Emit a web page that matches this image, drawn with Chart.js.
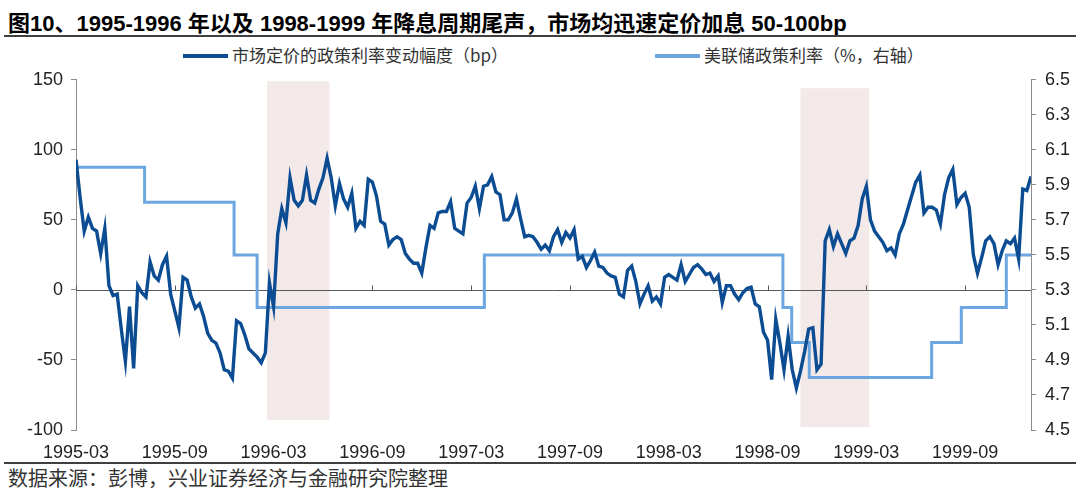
<!DOCTYPE html>
<html>
<head>
<meta charset="utf-8">
<script src="https://cdn.jsdelivr.net/npm/chart.js@4.4.1/dist/chart.umd.min.js"></script>
<style>
  body { margin: 0; width: 1080px; height: 492px; background: #fff; position: relative; overflow: hidden;
         font-family: "Liberation Sans", "Noto Sans CJK SC", sans-serif; }
  #title { position: absolute; left: 8px; top: 5px; font-size: 22px; font-weight: bold; color: #000; white-space: nowrap; }
  .rule { position: absolute; left: 4px; width: 1072px; height: 2px; background: #3f3f3f; }
  .leg { position: absolute; top: 42px; font-size: 17px; color: #333; white-space: nowrap; font-family: "Noto Sans CJK SC", sans-serif; }
  .leg i { display: inline-block; width: 45px; height: 4px; vertical-align: middle; margin-right: 4px; position: relative; top: -1px; }
  #source { position: absolute; left: 8px; top: 466px; font-size: 20px; color: #333; white-space: nowrap; font-family: "Noto Sans CJK SC", sans-serif; line-height: 24px; }
  #wrap { position: absolute; left: 0; top: 60px; width: 1080px; height: 400px; }
</style>
</head>
<body>
<div id="title">图10、1995-1996 年以及 1998-1999 年降息周期尾声，市场均迅速定价加息 50-100bp</div>
<div class="rule" style="top:35px"></div>
<div class="leg" id="leg1" style="left:183px"><i style="background:#0b4c92"></i><span></span></div>
<div class="leg" id="leg2" style="left:655px"><i style="background:#6ca6e0"></i><span></span></div>
<div id="wrap"><canvas id="myChart"></canvas></div>
<div class="rule" style="top:462px"></div>
<div id="source">数据来源：彭博，兴业证券经济与金融研究院整理</div>

<script>
const seriesNames = ["市场定价的政策利率变动幅度（bp）", "美联储政策利率（%，右轴）"];

// x axis tick labels (every 6 months)
const xTickLabels = ["1995-03", "1995-09", "1996-03", "1996-09", "1997-03",
                     "1997-09", "1998-03", "1998-09", "1999-03", "1999-09"];
const leftTicks = [-100, -50, 0, 50, 100, 150];
const rightTicks = [4.5, 4.7, 4.9, 5.1, 5.3, 5.5, 5.7, 5.9, 6.1, 6.3, 6.5];

// market-priced change in policy rate (bp), one value per quarter month from 1995-03
const spreadStart = "1995-03-01";
const spreadStep = 0.25;
const spread = [
  93, 66, 42, 52, 44, 42, 26, 44, 3, -4,
  -3, -28, -51, -12, -56, 3, -2, -5, 20, 10,
  7, 18, 24, -3, -15, -27, 9, 7, -5, -13,
  -10, -19, -31, -36, -38, -45, -57, -58, -63, -22,
  -24, -32, -42, -45, -48, -52, -45, 5, -12, 40,
  58, 48, 80, 64, 60, 64, 82, 64, 62, 72,
  80, 94, 80, 60, 76, 65, 59, 69, 44, 49,
  46, 79, 77, 67, 49, 47, 32, 36, 38, 36,
  26, 22, 19, 19, 12, 30, 46, 44, 55, 56,
  56, 63, 44, 42, 40, 62, 66, 74, 58, 74,
  75, 81, 70, 68, 50, 50, 55, 65, 51, 38,
  39, 38, 34, 29, 32, 28, 38, 43, 34, 41,
  37, 43, 22, 24, 16, 21, 27, 17, 16, 12,
  10, 9, -3, -5, 14, 17, 6, -10, -3, 3,
  -8, -5, -10, 9, 11, 9, 7, 18, 6, 11,
  16, 18, 15, 11, 12, 6, 10, -9, 3, 3,
  -3, -7, -2, 1, 2, -10, -12, -30, -36, -64,
  -21, -38, -57, -33, -57, -70, -58, -44, -28, -27,
  -57, -53, 35, 43, 31, 40, 33, 26, 35, 37,
  46, 65, 74, 50, 42, 38, 34, 28, 30, 25,
  40, 47, 57, 67, 77, 82, 55, 59, 59, 57,
  47, 68, 80, 86, 61, 66, 69, 59, 25, 12,
  23, 35, 38, 33, 18, 28, 35, 33, 37, 22,
  72, 71, 81
];

// fed funds target rate (%), date of each change
const fedDates = ["1995-03-01", "1995-07-06", "1995-12-19", "1996-01-31", "1997-03-25",
                  "1998-09-29", "1998-10-15", "1998-11-17", "1999-06-30", "1999-08-24",
                  "1999-11-16", "2000-01-01"];
const fedRate = [6.0, 5.8, 5.5, 5.2, 5.5, 5.2, 5.0, 4.8, 5.0, 5.2, 5.5, 5.5];

// shaded periods (end of easing cycles)
const shadeRanges = [["1996-02-19", "1996-06-13"], ["1998-11-01", "1999-03-06"]];
const shadeTop = [149, 144];
const shadeBottom = [-93, -98];

function toMonth(s) {
    const p = s.split("-").map(Number);
    return (p[0] - 1995) * 12 + (p[1] - 3) + ((p[2] || 1) - 1) / 30;
}

const tickFont = { family: '"Liberation Sans", Arial, sans-serif', size: 18 };

const bandsPlugin = {
    id: "bands",
    beforeDatasetsDraw(chart) {
        const { ctx, chartArea, scales: { x, y } } = chart;
        ctx.save();
        ctx.fillStyle = "#f4e9e9";
        shadeRanges.forEach((r, k) => {
            const x0 = x.getPixelForValue(toMonth(r[0]));
            const x1 = x.getPixelForValue(toMonth(r[1]));
            const y0 = y.getPixelForValue(shadeTop[k]);
            const y1 = y.getPixelForValue(shadeBottom[k]);
            ctx.fillRect(x0, y0, x1 - x0, y1 - y0);
        });
        // zero line with small tick marks
        const yz = Math.round(y.getPixelForValue(0)) + 0.5;
        ctx.strokeStyle = "#595959";
        ctx.lineWidth = 1;
        ctx.beginPath();
        ctx.moveTo(chartArea.left, yz);
        ctx.lineTo(chartArea.right, yz);
        x.ticks.forEach(t => {
            const px = Math.round(x.getPixelForValue(t.value)) + 0.5;
            ctx.moveTo(px, yz);
            ctx.lineTo(px, yz - 5);
        });
        ctx.stroke();
        ctx.restore();
    }
};

let chart;

function initChart() {
    document.querySelector("#leg1 span").textContent = seriesNames[0];
    document.querySelector("#leg2 span").textContent = seriesNames[1];

    const start = toMonth(spreadStart);
    const ctx = document.getElementById("myChart").getContext("2d");
    chart = new Chart(ctx, {
        type: "line",
        data: {
            datasets: [{
                label: seriesNames[0],
                data: spread.map((v, i) => ({ x: start + i * spreadStep, y: v })),
                yAxisID: "y",
                borderColor: "#0b4c92",
                backgroundColor: "#0b4c92",
                borderWidth: 3.4,
                pointRadius: 0,
                tension: 0
            }, {
                label: seriesNames[1],
                data: fedDates.map((d, i) => ({ x: toMonth(d), y: fedRate[i] })),
                yAxisID: "y1",
                stepped: true,
                borderColor: "#6ca6e0",
                backgroundColor: "#6ca6e0",
                borderWidth: 3,
                pointRadius: 0
            }]
        },
        options: {
            responsive: true,
            maintainAspectRatio: false,
            animation: false,
            layout: { padding: { top: 17, left: 0, right: 0, bottom: 0 } },
            plugins: {
                legend: { display: false },
                tooltip: { enabled: false }
            },
            scales: {
                x: {
                    type: "linear",
                    min: 0,
                    max: 58,
                    grid: { display: false, drawTicks: false },
                    border: { display: false },
                    afterBuildTicks: s => { s.ticks = xTickLabels.map(l => ({ value: toMonth(l) })); },
                    afterFit: s => { s.height = 30; },
                    ticks: {
                        autoSkip: false,
                        maxRotation: 0,
                        padding: 12,
                        color: "#222",
                        font: tickFont,
                        callback: (v, i) => xTickLabels[i]
                    }
                },
                y: {
                    position: "left",
                    min: -100,
                    max: 150,
                    afterBuildTicks: s => { s.ticks = leftTicks.map(v => ({ value: v })); },
                    afterFit: s => { s.width = 76; },
                    grid: { display: true, drawOnChartArea: false, tickLength: 5, color: "#8c8c8c" },
                    border: { display: true, color: "#8c8c8c" },
                    ticks: { padding: 8, color: "#222", font: tickFont }
                },
                y1: {
                    position: "right",
                    min: 4.5,
                    max: 6.5,
                    afterBuildTicks: s => { s.ticks = rightTicks.map(v => ({ value: v })); },
                    afterFit: s => { s.width = 49; },
                    grid: { display: true, drawOnChartArea: false, tickLength: 5, color: "#8c8c8c" },
                    border: { display: true, color: "#8c8c8c" },
                    ticks: { padding: 9, color: "#222", font: tickFont, callback: v => Number(v).toFixed(1) }
                }
            }
        },
        plugins: [bandsPlugin]
    });
}

document.addEventListener("DOMContentLoaded", function() {
    initChart();
});
</script>
</body>
</html>
